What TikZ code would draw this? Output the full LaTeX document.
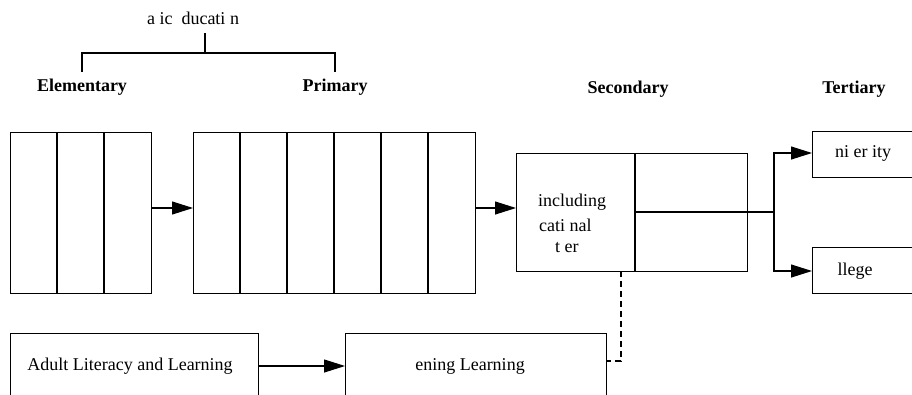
\documentclass[tikz,border=0pt]{standalone}
\usepackage{fontspec}
\setmainfont{Liberation Serif}
\usetikzlibrary{arrows.meta,calc}
\begin{document}
\begin{tikzpicture}[x=1pt,y=-1pt,
  txt/.style={font=\fontsize{18}{21}\selectfont, inner sep=0pt},
  head/.style={font=\fontsize{18}{21}\selectfont\bfseries, inner sep=0pt},
  blk/.style={draw, line width=1.1pt, inner sep=0pt, anchor=north west},
  ln/.style={line width=1.1pt},
  arr/.style={line width=1.1pt, -{Triangle[length=21pt,width=13pt]}},
  dsh/.style={line width=1.1pt, dash pattern=on 6pt off 4pt}]
\clip (0,0) rectangle (912,394);
% title and bracket
\node[txt] (title) at (193,18) {a ic\ \ ducati n};
\coordinate (tb) at (205,33);
\coordinate (tm) at (205,53);
\node[head] (elemh) at (82,87) {Elementary};
\node[head] (primh) at (335,87) {Primary};
\node[head] (sech) at (628,89) {Secondary};
\node[head] (terh) at (854,89) {Tertiary};
\draw[ln] (tb) -- (tm);
\draw[ln] (82,72) -- (82,53) -- (335,53) -- (335,72);
% elementary block
\node[blk, minimum width=141pt, minimum height=161pt] (elem) at (10,132) {};
\foreach \x in {57,104} \draw[ln] (\x,132) -- (\x,293);
% primary block
\node[blk, minimum width=282pt, minimum height=161pt] (prim) at (193,132) {};
\foreach \x in {240,287,334,381,428} \draw[ln] (\x,132) -- (\x,293);
% secondary block
\node[blk, minimum width=231pt, minimum height=118pt] (sec) at (516,153) {};
\draw[ln] (635,153) -- (635,271);
\node[txt, anchor=west] (inc1) at (538,202) {including};
\node[txt, anchor=west] (inc2) at (539,225) {cati nal};
\node[txt, anchor=west] (inc3) at (555,248) {t er};
% tertiary boxes
\node[blk, minimum width=130pt, minimum height=46pt] (univ) at (812,131) {};
\node[txt] (univt) at (863,153) {ni er ity};
\node[blk, minimum width=130pt, minimum height=46pt] (coll) at (812,247) {};
\node[txt] (collt) at (855,271) {llege};
% bottom boxes
\node[blk, minimum width=248pt, minimum height=80pt] (adult) at (10,333) {};
\node[txt] (adultt) at (130,366) {Adult Literacy and Learning};
\node[blk, minimum width=261pt, minimum height=80pt] (open) at (345,333) {};
\node[txt] (opent) at (470,366) {ening Learning};
% connectors
\draw[arr] (151,208) -- (193,208);
\draw[arr] (475,208) -- (516,208);
\coordinate (junc) at (774,212);
\draw[ln] (635,212) -- (junc);
\draw[arr] (junc) |- (812,153);
\draw[arr] (junc) |- (812,271);
\draw[arr] (258,366) -- (345,366);
\draw[dsh] (621,271) -- (621,361) -- (606,361);
\end{tikzpicture}
\end{document}
